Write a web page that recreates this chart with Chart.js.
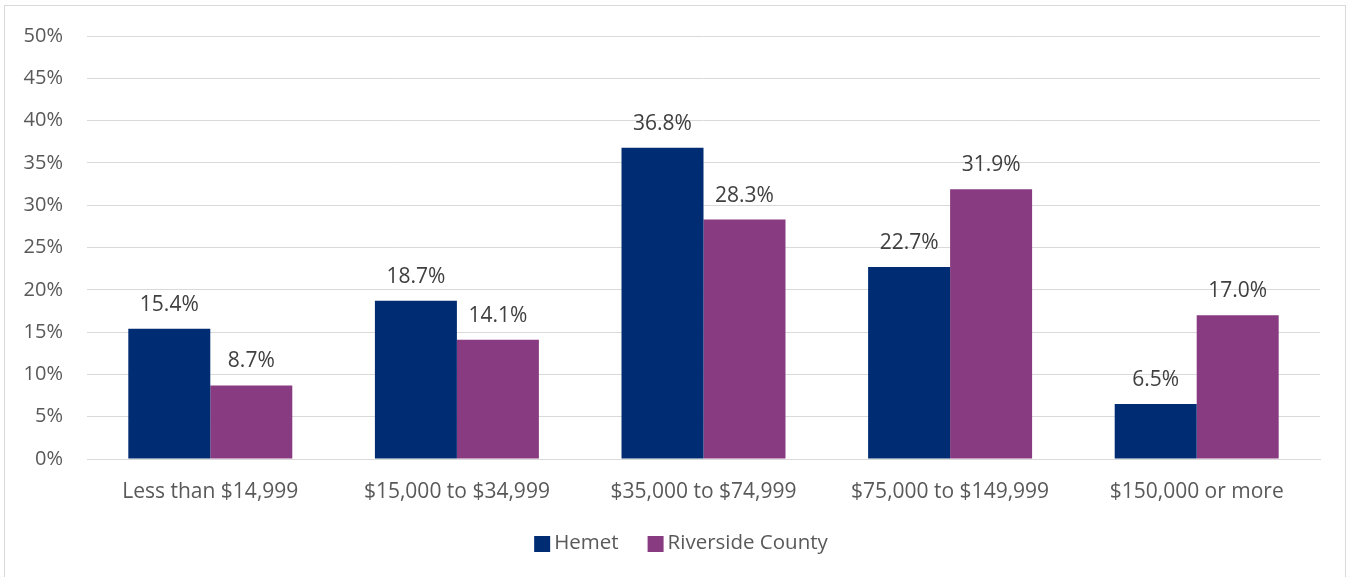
<!DOCTYPE html>
<html>
<head>
<meta charset="utf-8">
<script src="https://cdn.jsdelivr.net/npm/chart.js@4.4.1/dist/chart.umd.min.js"></script>
<style>
html,body{margin:0;padding:0;background:#fff;}
#wrap{position:relative;width:1350px;height:577px;overflow:hidden;}
#frame{position:absolute;left:4px;top:5px;width:1342px;height:600px;border:1px solid #d9d9d9;box-sizing:border-box;}
canvas{position:absolute;left:0;top:0;}
</style>
</head>
<body>
<div id="wrap">
<div id="frame"></div>
<canvas id="c" width="1350" height="577"></canvas>
</div>
<script>
const categories = ["Less than $14,999", "$15,000 to $34,999", "$35,000 to $74,999", "$75,000 to $149,999", "$150,000 or more"];
const hemet = [15.4, 18.7, 36.8, 22.7, 6.5];
const riverside = [8.7, 14.1, 28.3, 31.9, 17.0];
const seriesNames = ["Hemet", "Riverside County"];
const FONT = "'Open Sans', sans-serif";

const labelPlugin = {
  id: 'barLabels',
  afterDatasetsDraw(chart) {
    const ctx = chart.ctx;
    ctx.save();
    ctx.font = "21px " + FONT;
    ctx.fillStyle = "#404040";
    ctx.textAlign = "center";
    ctx.textBaseline = "middle";
    chart.data.datasets.forEach((ds, i) => {
      const meta = chart.getDatasetMeta(i);
      meta.data.forEach((bar, j) => {
        ctx.fillText(ds.data[j].toFixed(1) + "%", bar.x, bar.y - 24);
      });
    });
    ctx.restore();
  }
};

const legendPlugin = {
  id: 'customLegend',
  afterDraw(chart) {
    const ctx = chart.ctx;
    ctx.save();
    ctx.font = "20.5px " + FONT;
    ctx.textBaseline = "middle";
    const box = 16, gapText = 4, gapItem = 29;
    const items = chart.data.datasets.map(ds => ({text: ds.label, color: ds.backgroundColor, w: box + gapText + ctx.measureText(ds.label).width}));
    const total = items.reduce((a, it) => a + it.w, 0) + gapItem * (items.length - 1);
    let x = 681 - total / 2;
    const y = 543;
    items.forEach(it => {
      ctx.fillStyle = it.color;
      ctx.fillRect(x, y - box / 2 + 1, box, box);
      ctx.fillStyle = '#595959';
      ctx.fillText(it.text, x + box + gapText, y);
      x += it.w + gapItem;
    });
    ctx.restore();
  }
};

new Chart(document.getElementById('c'), {
  type: 'bar',
  data: {
    labels: categories,
    datasets: [
      {label: seriesNames[0], data: hemet, backgroundColor: '#002c73', categoryPercentage: 0.665, barPercentage: 1.0},
      {label: seriesNames[1], data: riverside, backgroundColor: '#893b81', categoryPercentage: 0.665, barPercentage: 1.0}
    ]
  },
  options: {
    responsive: false,
    animation: false,
    devicePixelRatio: 1,
    layout: {padding: {left: 0, right: 30, top: 35, bottom: 62}},
    plugins: {
      tooltip: {enabled: false},
      legend: {display: false}
    },
    scales: {
      x: {
        grid: {display: false, drawTicks: false},
        border: {display: true, color: '#d9d9d9', width: 1},
        ticks: {font: {family: FONT, size: 21}, color: '#595959', padding: 20, maxRotation: 0},
        afterFit(s) { s.height = 56; }
      },
      y: {
        min: 0, max: 50,
        grid: {color: '#d9d9d9', drawTicks: false, lineWidth: 1},
        border: {display: false},
        ticks: {stepSize: 5, font: {family: FONT, size: 20}, color: '#595959', padding: 24,
                callback: v => v + '%'},
        afterFit(s) { s.width = 87; }
      }
    }
  },
  plugins: [labelPlugin, legendPlugin]
});
</script>
</body>
</html>
